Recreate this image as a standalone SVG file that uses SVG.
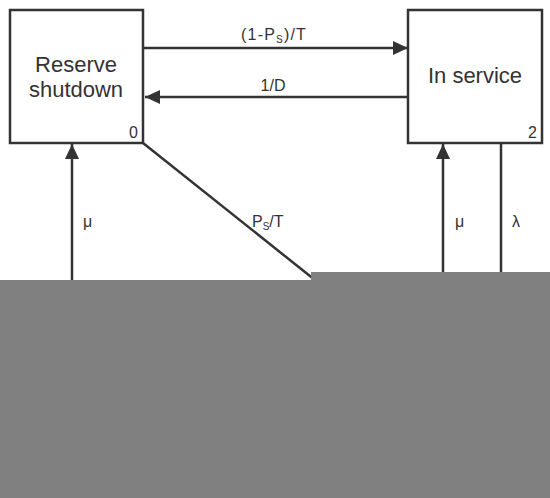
<svg xmlns="http://www.w3.org/2000/svg" width="550" height="498" viewBox="0 0 550 498">
<defs>
<marker id="ah" markerWidth="15" markerHeight="14" refX="15" refY="7" orient="auto" markerUnits="userSpaceOnUse">
<path d="M0,0 L15,7 L0,14 Z" fill="#333"/>
</marker>
<style>
.box{fill:#fff;stroke:#333;stroke-width:2.5}
.t{font-family:"Liberation Sans",Arial,sans-serif;fill:#333}
.big{font-size:22px}
.lbl{font-size:16px}
.num{font-size:16px}
.ln{stroke:#333;stroke-width:2.5;fill:none}
</style>
</defs>
<rect width="550" height="498" fill="#fff"/>
<g id="connectors">
<line class="ln" x1="143" y1="48" x2="408" y2="48" marker-end="url(#ah)"/>
<line class="ln" x1="408" y1="97" x2="145" y2="97" marker-end="url(#ah)"/>
<line class="ln" x1="143" y1="143" x2="320" y2="284"/>
<line class="ln" x1="72" y1="290" x2="72" y2="144" marker-end="url(#ah)"/>
<line class="ln" x1="443" y1="290" x2="443" y2="144" marker-end="url(#ah)"/>
<line class="ln" x1="501" y1="143" x2="501" y2="290"/>
<text class="t lbl" x="241" y="40" letter-spacing="1.2">(1-P<tspan font-size="10" dy="3">S</tspan><tspan dy="-3">)/T</tspan></text>
<text class="t lbl" x="273" y="91" text-anchor="middle">1/D</text>
<text class="t lbl" x="252" y="227">P<tspan font-size="10" dy="3">S</tspan><tspan dy="-3">/T</tspan></text>
<text class="t lbl" x="83" y="227">μ</text>
<text class="t lbl" x="455" y="227">μ</text>
<text class="t lbl" x="512" y="227">λ</text>
</g>
<g id="reserve">
<rect class="box" x="10" y="10" width="133" height="133"/>
<text class="t big" x="76" y="72" text-anchor="middle">Reserve</text>
<text class="t big" x="76" y="97" text-anchor="middle">shutdown</text>
<text class="t num" x="138" y="138" text-anchor="end">0</text>
</g>
<g id="inservice">
<rect class="box" x="408" y="10" width="134" height="133"/>
<text class="t big" x="475" y="83" text-anchor="middle">In service</text>
<text class="t num" x="537" y="138" text-anchor="end">2</text>
</g>
<path d="M0,280 H311 V272 H550 V498 H0 Z" fill="#808080"/>
</svg>
